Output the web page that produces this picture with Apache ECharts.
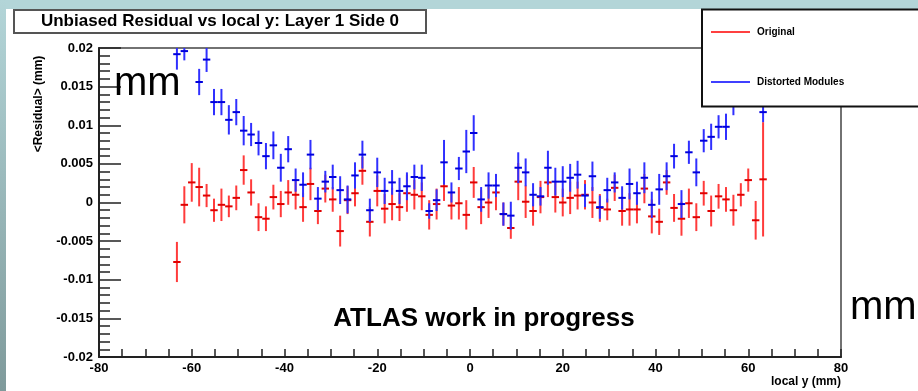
<!DOCTYPE html>
<html>
<head>
<meta charset="utf-8">
<script src="https://cdn.jsdelivr.net/npm/echarts@6/dist/echarts.min.js"></script>
<style>
  html, body { margin: 0; padding: 0; background: #fff; }
  #chart { width: 918px; height: 391px; }
</style>
</head>
<body>
<div id="chart"></div>
<script>
// histogram bin centres, local y (mm), 80 bins of 1.6 mm
var binCenters = [
  -63.2, -61.6, -60.0, -58.4, -56.8, -55.2, -53.6, -52.0, -50.4, -48.8,
  -47.2, -45.6, -44.0, -42.4, -40.8, -39.2, -37.6, -36.0, -34.4, -32.8,
  -31.2, -29.6, -28.0, -26.4, -24.8, -23.2, -21.6, -20.0, -18.4, -16.8,
  -15.2, -13.6, -12.0, -10.4, -8.8, -7.2, -5.6, -4.0, -2.4, -0.8,
  0.8, 2.4, 4.0, 5.6, 7.2, 8.8, 10.4, 12.0, 13.6, 15.2,
  16.8, 18.4, 20.0, 21.6, 23.2, 24.8, 26.4, 28.0, 29.6, 31.2,
  32.8, 34.4, 36.0, 37.6, 39.2, 40.8, 42.4, 44.0, 45.6, 47.2,
  48.8, 50.4, 52.0, 53.6, 55.2, 56.8, 58.4, 60.0, 61.6, 63.2
];
var binHalfWidth = 0.8;

// <Residual> (mm), "Original"
var originalRes = [
  -0.0077, -0.0003, 0.0026, 0.0020, 0.0009, -0.0010, -0.0003, -0.0005, 0.0006, 0.0042,
  0.0013, -0.0019, -0.0021, 0.0007, -0.0002, 0.0013, 0.0010, -0.0006, 0.0024, -0.0011,
  0.0018, 0.0004, -0.0037, 0.0003, 0.0012, 0.0041, -0.0025, 0.0015, -0.0008, -0.0002,
  -0.0006, 0.0012, 0.0010, 0.0008, -0.0016, -0.0002, 0.0021, -0.0004, -0.0001, -0.0016,
  0.0026, -0.0006, 0.0000, 0.0013, -0.0015, -0.0033, 0.0027, 0.0001, -0.0011, 0.0007,
  0.0026, 0.0007, 0.0000, 0.0006, 0.0009, 0.0010, 0.0000, -0.0007, -0.0009, 0.0019,
  -0.0011, -0.0009, -0.0009, 0.0018, -0.0018, -0.0025, 0.0026, -0.0007, -0.0021, -0.0001,
  -0.0019, 0.0012, -0.0011, 0.0008, 0.0004, -0.0010, 0.0010, 0.0029, -0.0023, 0.0030
];
var originalErr = [
  0.0026, 0.0024, 0.0025, 0.0025, 0.0015, 0.0015, 0.0021, 0.0014, 0.0016, 0.0019,
  0.0017, 0.0018, 0.0016, 0.0016, 0.0017, 0.0016, 0.0019, 0.0019, 0.0021, 0.0017,
  0.0018, 0.0016, 0.0020, 0.0018, 0.0017, 0.0018, 0.0019, 0.0020, 0.0019, 0.0021,
  0.0018, 0.0024, 0.0019, 0.0018, 0.0019, 0.0020, 0.0019, 0.0018, 0.0021, 0.0019,
  0.0020, 0.0022, 0.0020, 0.0023, 0.0015, 0.0014, 0.0024, 0.0021, 0.0019, 0.0021,
  0.0019, 0.0020, 0.0018, 0.0021, 0.0018, 0.0019, 0.0020, 0.0018, 0.0014, 0.0017,
  0.0019, 0.0021, 0.0018, 0.0019, 0.0022, 0.0017, 0.0016, 0.0018, 0.0022, 0.0019,
  0.0018, 0.0016, 0.0020, 0.0016, 0.0016, 0.0020, 0.0015, 0.0015, 0.0025, 0.0074
];

// <Residual> (mm), "Distorted Modules"
var distortedRes = [
  0.0192, 0.0196, 0.0215, 0.0156, 0.0185, 0.0130, 0.0130, 0.0107, 0.0117, 0.0093,
  0.0088, 0.0077, 0.0060, 0.0074, 0.0045, 0.0069, 0.0029, 0.0023, 0.0062, 0.0005,
  0.0027, 0.0033, 0.0016, 0.0004, 0.0035, 0.0062, -0.0010, 0.0039, 0.0015, 0.0026,
  0.0015, 0.0021, 0.0033, 0.0032, -0.0011, 0.0003, 0.0052, 0.0013, 0.0044, 0.0066,
  0.0090, 0.0004, 0.0022, 0.0022, -0.0015, -0.0017, 0.0045, 0.0039, 0.0010, 0.0008,
  0.0045, 0.0027, 0.0027, 0.0032, 0.0036, 0.0009, 0.0034, -0.0006, 0.0016, 0.0026,
  0.0006, 0.0024, 0.0012, 0.0032, -0.0003, 0.0017, 0.0034, 0.0060, -0.0002, 0.0065,
  0.0039, 0.0080, 0.0085, 0.0098, 0.0098, 0.0130, 0.0145, 0.0150, 0.0160, 0.0117
];
var distortedErr = [
  0.0020, 0.0012, 0.0012, 0.0017, 0.0016, 0.0017, 0.0017, 0.0019, 0.0017, 0.0019,
  0.0015, 0.0016, 0.0017, 0.0018, 0.0018, 0.0017, 0.0015, 0.0016, 0.0019, 0.0015,
  0.0014, 0.0016, 0.0018, 0.0018, 0.0017, 0.0018, 0.0015, 0.0019, 0.0017, 0.0016,
  0.0017, 0.0018, 0.0016, 0.0017, 0.0010, 0.0014, 0.0029, 0.0013, 0.0015, 0.0028,
  0.0023, 0.0016, 0.0017, 0.0015, 0.0015, 0.0018, 0.0020, 0.0018, 0.0015, 0.0012,
  0.0022, 0.0018, 0.0020, 0.0018, 0.0018, 0.0015, 0.0019, 0.0015, 0.0016, 0.0013,
  0.0015, 0.0020, 0.0015, 0.0020, 0.0017, 0.0020, 0.0018, 0.0016, 0.0018, 0.0015,
  0.0018, 0.0015, 0.0017, 0.0015, 0.0017, 0.0017, 0.0016, 0.0016, 0.0017, 0.0013
];

var yTicks = { min: -0.02, max: 0.02, step: 0.005 };
var xTicks = { min: -80, max: 80, step: 20 };

var FONT = '"Liberation Sans", Arial, Helvetica, sans-serif';

function toRows(vals, errs) {
  var rows = [];
  for (var i = 0; i < binCenters.length; i++) {
    rows.push([binCenters[i], vals[i], errs[i]]);
  }
  return rows;
}

// ROOT style error bar: vertical error line + horizontal bin-width line
function errorBars(barColor, markColor) {
  return function (params, api) {
    var x = api.value(0), y = api.value(1), e = api.value(2);
    var c = api.coord([x, y]);
    var top = api.coord([x, y + e]);
    var bot = api.coord([x, y - e]);
    var l = api.coord([x - binHalfWidth, y]);
    var r = api.coord([x + binHalfWidth, y]);
    return {
      type: 'group',
      children: [
        { type: 'line', shape: { x1: c[0], y1: top[1], x2: c[0], y2: bot[1] },
          style: { stroke: barColor, lineWidth: 2 } },
        { type: 'line', shape: { x1: l[0], y1: c[1], x2: r[0], y2: c[1] },
          style: { stroke: markColor, lineWidth: 2 } }
      ]
    };
  };
}

var chart = echarts.init(document.getElementById('chart'), null, { renderer: 'canvas' });

var option = {
  animation: false,
  backgroundColor: '#fff',
  grid: {
    left: 99, right: 77, top: 48, bottom: 34,
    show: true, borderColor: '#444', borderWidth: 1.5, backgroundColor: 'transparent'
  },
  xAxis: {
    type: 'value',
    min: xTicks.min, max: xTicks.max, interval: xTicks.step,
    axisLine: { show: true, onZero: false, lineStyle: { color: '#222', width: 2 } },
    axisTick: { show: true, inside: true, length: 8, lineStyle: { color: '#222', width: 1.5 } },
    minorTick: { show: true, splitNumber: 4, length: 8, lineStyle: { color: '#222', width: 1.5 } },
    splitLine: { show: false },
    axisLabel: { color: '#000', fontFamily: FONT, fontWeight: 'bold', fontSize: 13, margin: 5 }
  },
  yAxis: {
    type: 'value',
    min: yTicks.min, max: yTicks.max, interval: yTicks.step,
    axisLine: { show: true, onZero: false, lineStyle: { color: '#222', width: 2 } },
    axisTick: { show: true, inside: true, length: 22, lineStyle: { color: '#222', width: 1.5 } },
    minorTick: { show: true, splitNumber: 5, length: 11, lineStyle: { color: '#222', width: 1.5 } },
    splitLine: { show: false },
    axisLabel: {
      color: '#000', fontFamily: FONT, fontWeight: 'bold', fontSize: 13, margin: 6,
      formatter: function (v) { return String(Number(v.toFixed(3))); }
    }
  },
  series: [
    {
      name: 'Original',
      type: 'custom',
      clip: true,
      data: toRows(originalRes, originalErr),
      renderItem: errorBars('#ff3b3b', '#e00000'),
      z: 2
    },
    {
      name: 'Distorted Modules',
      type: 'custom',
      clip: true,
      data: toRows(distortedRes, distortedErr),
      renderItem: errorBars('#3030ff', '#0000dd'),
      z: 3
    }
  ],
  graphic: [
    // slide frame
    { type: 'rect', z: 0, silent: true, shape: { x: 0, y: 0, width: 918, height: 9 },
      style: { fill: '#b3d5d8' } },
    { type: 'rect', z: 0, silent: true, shape: { x: 0, y: 0, width: 6, height: 391 },
      style: { fill: new echarts.graphic.LinearGradient(0, 0, 0, 1, [
        { offset: 0, color: '#b3d5d8' }, { offset: 1, color: '#7f9a9b' }]) } },
    // title box
    { type: 'rect', z: 50, shape: { x: 14, y: 10, width: 412, height: 23 },
      style: { fill: '#fff', stroke: '#555', lineWidth: 2 } },
    { type: 'text', z: 51, x: 220, y: 21.5,
      style: { text: 'Unbiased Residual vs local y: Layer 1 Side 0', fill: '#000',
        font: 'bold 17px ' + FONT, textAlign: 'center', textVerticalAlign: 'middle' } },
    // legend box
    { type: 'rect', z: 50, shape: { x: 702, y: 9.5, width: 240, height: 97 },
      style: { fill: '#fff', stroke: '#111', lineWidth: 2 } },
    { type: 'line', z: 51, shape: { x1: 711, y1: 32, x2: 750, y2: 32 },
      style: { stroke: '#ff4040', lineWidth: 2 } },
    { type: 'text', z: 51, x: 757, y: 32,
      style: { text: 'Original', fill: '#000', font: 'bold 10px ' + FONT, textVerticalAlign: 'middle' } },
    { type: 'line', z: 51, shape: { x1: 711, y1: 82, x2: 750, y2: 82 },
      style: { stroke: '#4040ff', lineWidth: 2 } },
    { type: 'text', z: 51, x: 757, y: 82,
      style: { text: 'Distorted Modules', fill: '#000', font: 'bold 10px ' + FONT, textVerticalAlign: 'middle' } },
    // axis titles
    { type: 'text', z: 51, x: 39, y: 104, rotation: Math.PI / 2,
      style: { text: '<Residual> (mm)', fill: '#000', font: 'bold 12px ' + FONT,
        textAlign: 'center', textVerticalAlign: 'middle' } },
    { type: 'text', z: 51, x: 841, y: 382,
      style: { text: 'local y (mm)', fill: '#000', font: 'bold 12px ' + FONT,
        textAlign: 'right', textVerticalAlign: 'middle' } },
    // annotations
    { type: 'text', z: 51, x: 484, y: 319,
      style: { text: 'ATLAS work in progress', fill: '#000', font: 'bold 26px ' + FONT,
        textAlign: 'center', textVerticalAlign: 'middle' } },
    { type: 'text', z: 51, x: 114, y: 84,
      style: { text: 'mm', fill: '#000', font: '40px ' + FONT, textVerticalAlign: 'middle' } },
    { type: 'text', z: 51, x: 850, y: 308,
      style: { text: 'mm', fill: '#000', font: '40px ' + FONT, textVerticalAlign: 'middle' } }
  ]
};

chart.setOption(option);
</script>
</body>
</html>
